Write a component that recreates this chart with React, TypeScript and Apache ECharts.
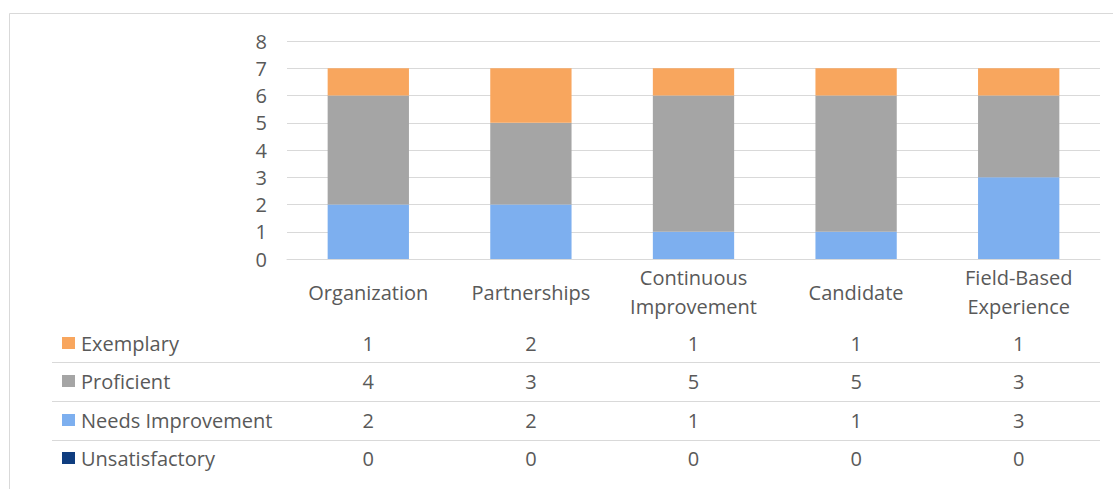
import React, { useEffect, useRef } from "react";
import * as echarts from "echarts";

const categories = ["Organization", "Partnerships", "Continuous\nImprovement", "Candidate", "Field-Based\nExperience"];
const exemplary = [1, 2, 1, 1, 1];
const proficient = [4, 3, 5, 5, 3];
const needsImprovement = [2, 2, 1, 1, 3];
const unsatisfactory = [0, 0, 0, 0, 0];
const yTicks = [0, 1, 2, 3, 4, 5, 6, 7, 8];

const FONT = "'Open Sans'";
const FS = 20;
const TXT = "#595959";

const rows = [
  { name: "Exemplary", data: exemplary, color: "#F8A65E" },
  { name: "Proficient", data: proficient, color: "#A5A5A5" },
  { name: "Needs Improvement", data: needsImprovement, color: "#7DAFEF" },
  { name: "Unsatisfactory", data: unsatisfactory, color: "#0F3D7F" },
];

export default function App() {
  const ref = useRef<HTMLDivElement>(null);
  useEffect(() => {
    const chart = echarts.init(ref.current!, null, { renderer: "svg" });
    const stackOrder = [...rows].reverse();
    chart.setOption({
      animation: false,
      grid: { left: 287, right: 13, top: 41, bottom: 230 },
      xAxis: {
        type: "category",
        data: categories,
        axisLine: { lineStyle: { color: "#D9D9D9", width: 1 } },
        axisTick: { show: false },
        axisLabel: {
          color: TXT,
          fontFamily: FONT,
          fontSize: FS,
          lineHeight: 29,
          verticalAlign: "middle",
          margin: 33,
          interval: 0,
        },
      },
      yAxis: {
        type: "value",
        min: yTicks[0],
        max: yTicks[yTicks.length - 1],
        interval: 1,
        axisLine: { show: false },
        axisTick: { show: false },
        splitLine: { lineStyle: { color: "#D9D9D9", width: 1 } },
        axisLabel: { color: TXT, fontFamily: FONT, fontSize: FS, margin: 20 },
      },
      series: stackOrder.map((r) => ({
        name: r.name,
        type: "bar",
        stack: "total",
        data: r.data,
        barWidth: "50%",
        itemStyle: { color: r.color },
      })),
    });

    const rowY = [343, 381, 420, 458];
    const sepY = [362, 401, 440];
    const graphics: any[] = [
      {
        type: "rect",
        shape: { x: 9.5, y: 13.5, width: 1200, height: 490 },
        style: { fill: "none", stroke: "#D9D9D9", lineWidth: 1 },
        silent: true,
      },
    ];
    sepY.forEach((y) => {
      graphics.push({
        type: "line",
        shape: { x1: 52, y1: y + 0.5, x2: 1100, y2: y + 0.5 },
        style: { stroke: "#D9D9D9", lineWidth: 1 },
      });
    });
    rows.forEach((r, ri) => {
      const y = rowY[ri];
      graphics.push({
        type: "rect",
        shape: { x: 62, y: y - 6, width: 13, height: 12 },
        style: { fill: r.color },
      });
      graphics.push({
        type: "text",
        x: 81,
        y,
        style: { text: r.name, fill: TXT, font: `${FS}px ${FONT}`, verticalAlign: "middle", align: "left" },
      });
      r.data.forEach((v, ci) => {
        const x = chart.convertToPixel({ xAxisIndex: 0 }, ci) as number;
        graphics.push({
          type: "text",
          x,
          y,
          style: { text: String(v), fill: TXT, font: `${FS}px ${FONT}`, verticalAlign: "middle", align: "center" },
        });
      });
    });
    chart.setOption({ graphic: graphics });
    return () => chart.dispose();
  }, []);
  return (
    <div
      ref={ref}
      style={{ position: "fixed", left: 0, top: 0, width: 1113, height: 489, background: "#fff" }}
    />
  );
}
